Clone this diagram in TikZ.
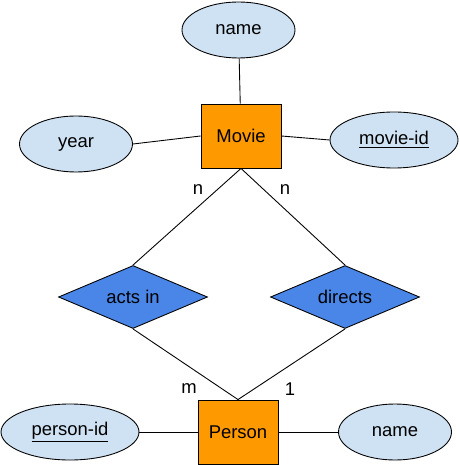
\documentclass[tikz,border=0pt]{standalone}
\usepackage{fontspec}
\setmainfont{Liberation Sans}
\usetikzlibrary{shapes.geometric}

\definecolor{attrblue}{HTML}{CFE2F3}
\definecolor{entorange}{HTML}{FF9900}
\definecolor{relblue}{HTML}{4A86E8}

\begin{document}
\begin{tikzpicture}[x=0.02cm, y=-0.02cm, line width=0.5pt,
  font=\fontsize{10.5}{12}\selectfont,
  attr/.style={ellipse, draw, fill=attrblue, inner sep=0pt, minimum height=56*0.02cm},
  entity/.style={rectangle, draw, fill=entorange, inner sep=0pt, minimum width=80*0.02cm, minimum height=64*0.02cm},
  rel/.style={diamond, draw, fill=relblue, inner sep=0pt, aspect=2.37, minimum width=149*0.02cm, minimum height=63*0.02cm}]
\useasboundingbox (0,0) rectangle (459,465);
\node [entity] (movie) at (241,136) {Movie};
\node [entity] (person) at (238,432) {Person};
\node [attr, minimum width=113*0.02cm] (mname) at (238.5,30) {name};
\node [attr, minimum width=113*0.02cm] (year) at (76,144) {year};
\node [attr, minimum width=128*0.02cm] (mid) at (394,140) {\underline{movie-id}};
\node [attr, minimum width=138*0.02cm] (pid) at (70,432) {\underline{person-id}};
\node [attr, minimum width=113*0.02cm] (pname) at (395,432) {name};
\node [rel] (acts) at (133,297) {acts in};
\node [rel] (directs) at (345,297) {directs};

\draw (mname) -- (movie);
\draw (year.east) -- (movie.west);
\draw (movie.east) -- (mid.west);
\draw (movie.south) -- (acts.north);
\draw (movie.south) -- (directs.north);
\draw (acts.south) -- (person.north);
\draw (directs.south) -- (person.north);
\draw (pid.east) -- (person.west);
\draw (person.east) -- (pname.west);

\node (n1) at (198,190) {n};
\node (n2) at (285,190) {n};
\node (m1) at (189,389) {m};
\node (o1) at (290,389) {1};
\end{tikzpicture}
\end{document}
